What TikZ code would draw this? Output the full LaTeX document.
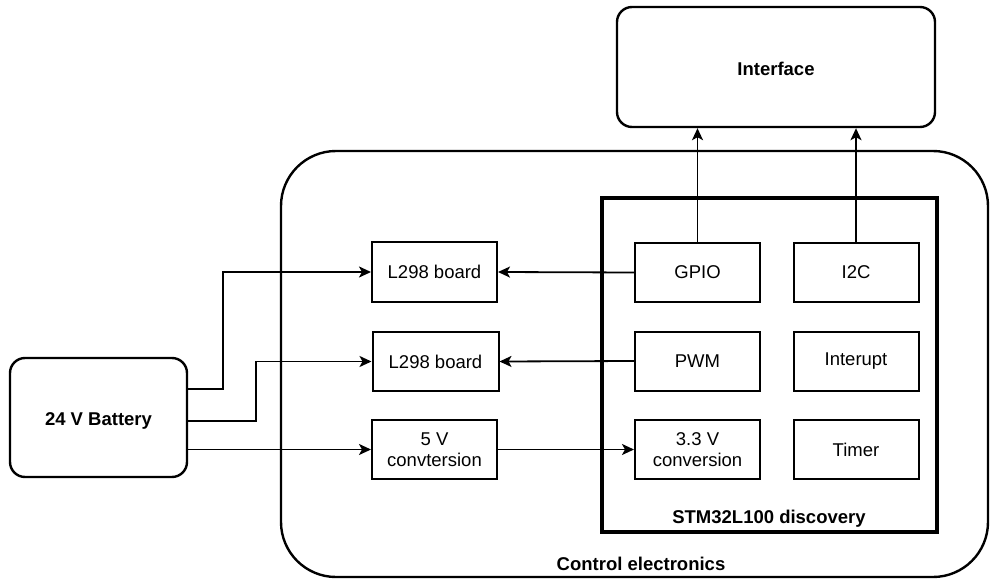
\documentclass[tikz,border=0pt]{standalone}
\usepackage{fontspec}
\setmainfont{Liberation Sans}
\usetikzlibrary{arrows.meta}
\begin{document}
\begin{tikzpicture}[x=1pt,y=-1pt,
  every node/.style={font=\fontsize{18.5}{21}\selectfont, inner sep=0pt, align=center},
  blk/.style={draw, line width=2pt, minimum width=125pt, minimum height=59pt},
  rbox/.style={draw, line width=2.4pt, rounded corners=15pt},
  wire/.style={line width=1.8pt, -{Stealth[length=12pt,width=11pt,inset=3pt]}},
  lbl/.style={font=\fontsize{18.5}{21}\selectfont\bfseries}]
\useasboundingbox (0,0) rectangle (990,583);
% containers
\node[draw, line width=2.4pt, rounded corners=55pt, minimum width=707pt, minimum height=426pt] (ctrl) at (634.5,364) {};
\node[lbl] (ctrllbl) at (641,564) {Control electronics};
\node[draw, line width=4pt, minimum width=335pt, minimum height=334pt] (stm) at (769.5,365) {};
\node[lbl] (stmlbl) at (769,518.5) {STM32L100 discovery};
% top and left boxes
\node[rbox, minimum width=318pt, minimum height=120pt] (iface) at (776,67) {};
\node[lbl] at ([yshift=-2pt]iface.center) {Interface};
\node[rbox, minimum width=177pt, minimum height=119pt] (batt) at (98.5,417.5) {};
\node[lbl] at ([yshift=-3pt]batt.center) {24 V Battery};
% inner blocks
\node[blk] (gpio) at (697.5,272.5) {GPIO};
\node[blk] (i2c) at (856,272.5) {I2C};
\node[blk] (pwm) at (697.5,361) {PWM};
\node[blk] (intr) at (856,361) {Interupt};
\node[blk] (c33) at (697.5,449.5) {3.3 V\\conversion};
\node[blk] (timer) at (856,449.5) {Timer};
\node[blk, minimum height=60pt] (l1) at (434.5,272) {L298 board};
\node[blk, minimum width=126pt] (l2) at (435.5,361.5) {L298 board};
\node[blk] (v5) at (434.5,449.5) {5 V\\convtersion};
% connectors
\draw[wire] (gpio.north) -- (iface.south -| gpio.north);
\draw[wire] (i2c.north) -- (iface.south -| i2c.north);
\draw[wire] (gpio.west) -- (l1.east);
\draw[wire] (pwm.west) -- (l2.east);
\draw[wire] (v5.east) -- (c33.west);
\coordinate (b1) at (batt.east |- 0,389);
\coordinate (b2) at (batt.east |- 0,421);
\coordinate (b3) at (batt.east |- 0,449.5);
\draw[wire] (b1) -- (223,389) -- (223,272) -- (l1.west);
\draw[wire] (b2) -- (256,421) -- (256,361.5) -- (l2.west);
\draw[wire] (b3) -- (v5.west);
\end{tikzpicture}
\end{document}
